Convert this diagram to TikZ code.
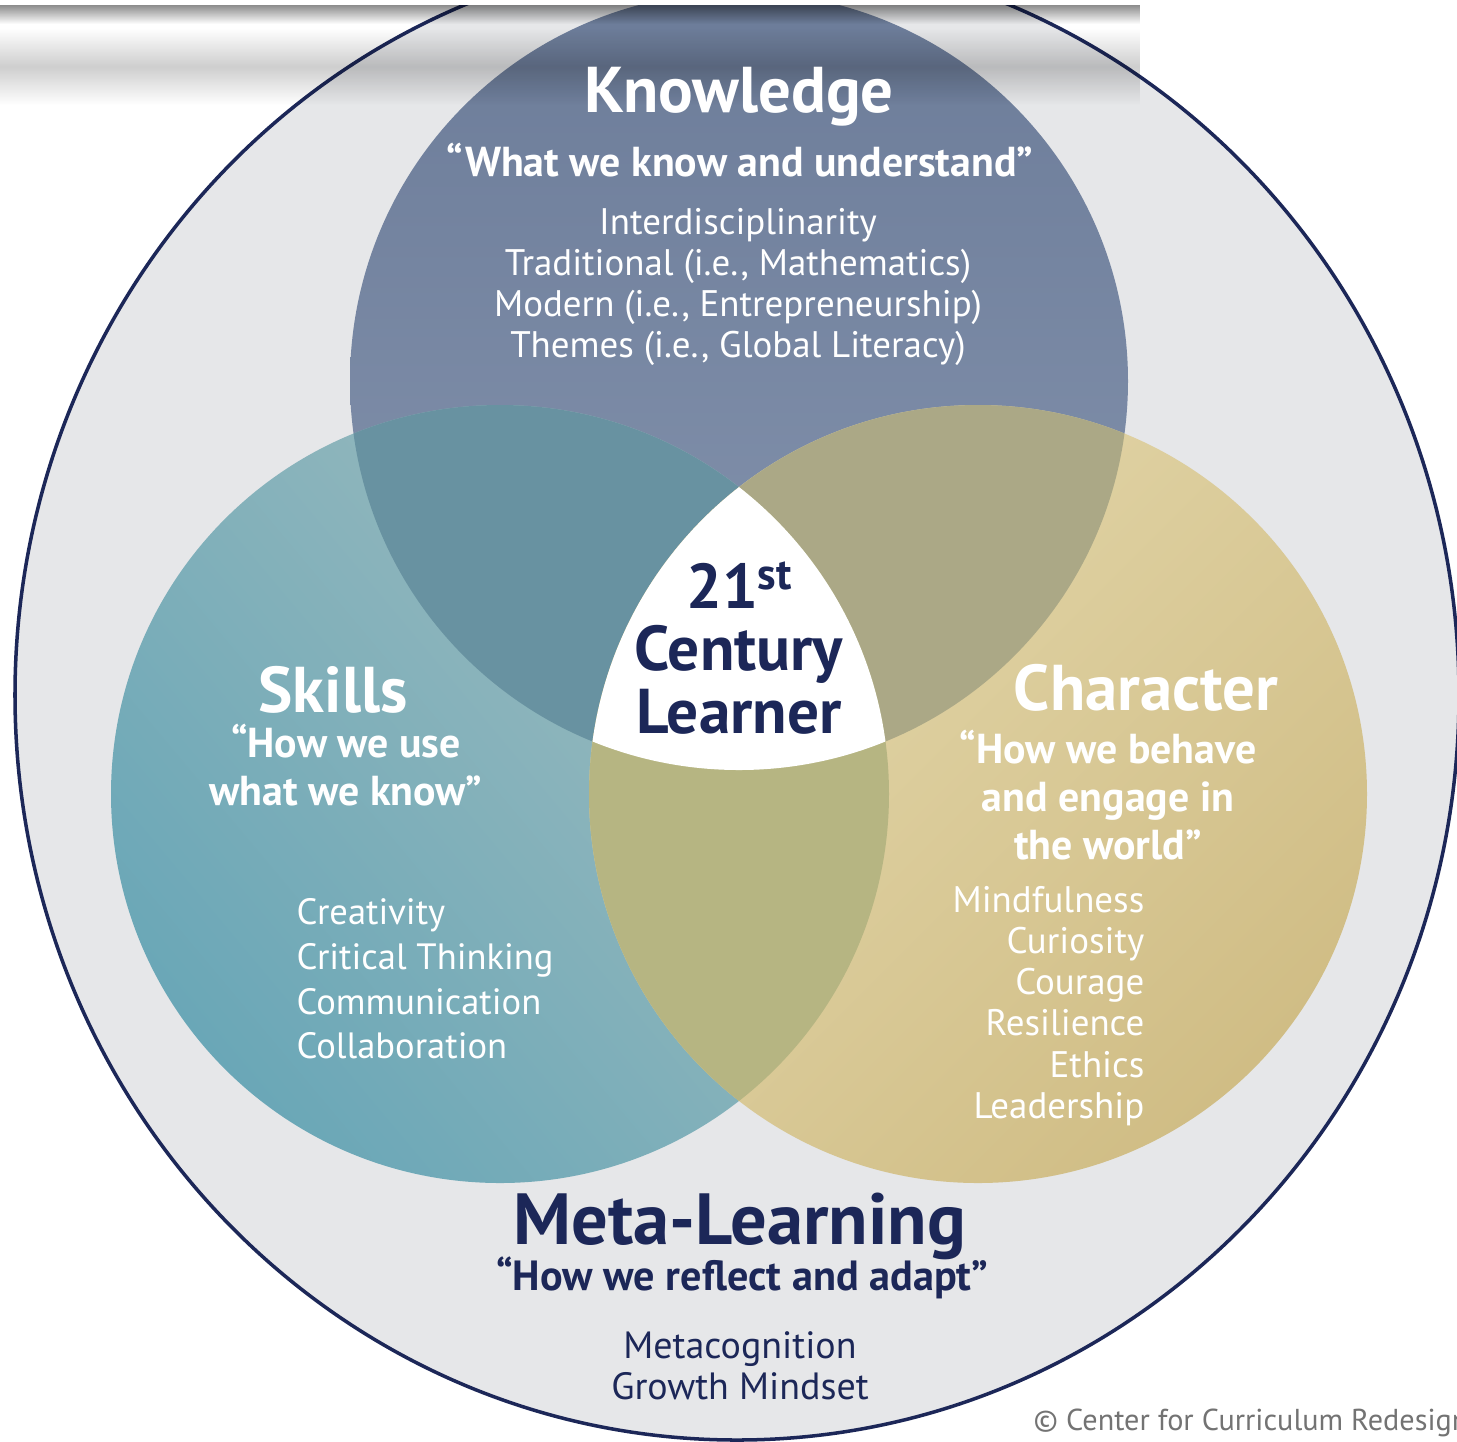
\documentclass[tikz,border=0pt]{standalone}
\usepackage{fontspec}
\setmainfont{PT Sans}
\usetikzlibrary{fadings}

\definecolor{navy}{RGB}{28,39,88}
\definecolor{ringgray}{RGB}{230,231,233}
\definecolor{knowtop}{RGB}{108,124,153}
\definecolor{knowbot}{RGB}{134,149,175}
\definecolor{skilldark}{RGB}{106,167,183}
\definecolor{skilllight}{RGB}{160,188,190}
\definecolor{charlight}{RGB}{228,216,172}
\definecolor{chardark}{RGB}{208,189,133}
\definecolor{ksmix}{RGB}{104,146,161}
\definecolor{kcmix}{RGB}{171,168,134}
\definecolor{scmix}{RGB}{182,181,130}

\tikzfading[name=midband, top color=transparent!100, bottom color=transparent!100, middle color=transparent!45]

\begin{document}
\begin{tikzpicture}[x=0.01cm,y=-0.01cm,
  every node/.style={inner sep=0pt},
  bigtitle/.style={font=\bfseries\fontsize{18.4}{21}\selectfont},
  quotetext/.style={font=\bfseries\fontsize{11.9}{13.7}\selectfont, align=center},
  listtext/.style={font=\fontsize{10.5}{11.7}\selectfont}]
\useasboundingbox (0,0) rectangle (1457,1441);
\fill[white] (0,0) rectangle (1457,1441);

% outer ring: meta-learning
\filldraw[fill=ringgray,draw=navy,line width=1pt] (737,695) ellipse (722 and 745);

% the three circles
\shade[top color=knowtop,bottom color=knowbot] (739,381) circle (389);
\shade[top color=skilllight,bottom color=skilldark,shading angle=-50] (500,794) circle (389);
\shade[top color=charlight,bottom color=chardark,shading angle=45] (978,794) circle (389);

% overlaps
\begin{scope}
\clip (739,381) circle (389);
\fill[ksmix] (500,794) circle (389);
\fill[kcmix] (978,794) circle (389);
\end{scope}
\begin{scope}
\clip (500,794) circle (389);
\fill[scmix] (978,794) circle (389);
\clip (978,794) circle (389);
\fill[white] (739,381) circle (389);
\end{scope}

% paper shadow at the top
\fill[black,opacity=0.45,path fading=south] (0,5) rectangle (1140,24);
\fill[black,opacity=0.35,path fading=midband] (0,28) rectangle (1140,105);
\fill[white] (0,0) rectangle (1135,5);

% knowledge
\node[bigtitle,text=white] (ktitle) at (739,97) {Knowledge};
\node[quotetext,text=white] (kquote) at (740,160) {“What we know and understand”};
\node[listtext,text=white,align=center] (klist) at (738,287)
  {Interdisciplinarity\\Traditional (i.e., Mathematics)\\Modern (i.e., Entrepreneurship)\\Themes (i.e., Global Literacy)};

% skills
\node[bigtitle,text=white] (stitle) at (333,690) {Skills};
\node[quotetext,text=white] (squote) at (346,765) {“How we use\\what we know”};
\node[listtext,text=white,align=left,anchor=west,font=\fontsize{10.4}{12.7}\selectfont] (slist) at (296,979)
  {Creativity\\Critical Thinking\\Communication\\Collaboration};

% character
\node[bigtitle,text=white] (ctitle) at (1146,688) {Character};
\node[quotetext,text=white] (cquote) at (1108,795) {“How we behave\\and engage in\\the world”};
\node[listtext,text=white,align=right,anchor=east] (clist) at (1145,1006)
  {Mindfulness\\Curiosity\\Courage\\Resilience\\Ethics\\Leadership};

% center
\node[text=navy,align=center,font=\bfseries\fontsize{18}{17.8}\selectfont] (learner) at (739,648)
  {21\raisebox{0.6ex}{\fontsize{12.5}{12.5}\selectfont st}\\Century\\Learner};

% meta-learning
\node[text=navy,font=\bfseries\fontsize{20.6}{23}\selectfont] (mtitle) at (740,1226) {Meta-Learning};
\node[quotetext,text=navy,font=\bfseries\fontsize{12}{14}\selectfont] (mquote) at (742,1278) {“How we reflect and adapt”};
\node[listtext,text=navy,align=center,font=\fontsize{10.8}{11.7}\selectfont] (mlist) at (740,1366) {Metacognition\\Growth Mindset};

\node[text=black!55,anchor=west,font=\fontsize{8.6}{10}\selectfont] (copy) at (1033,1423) {© Center for Curriculum Redesign};
\end{tikzpicture}
\end{document}
